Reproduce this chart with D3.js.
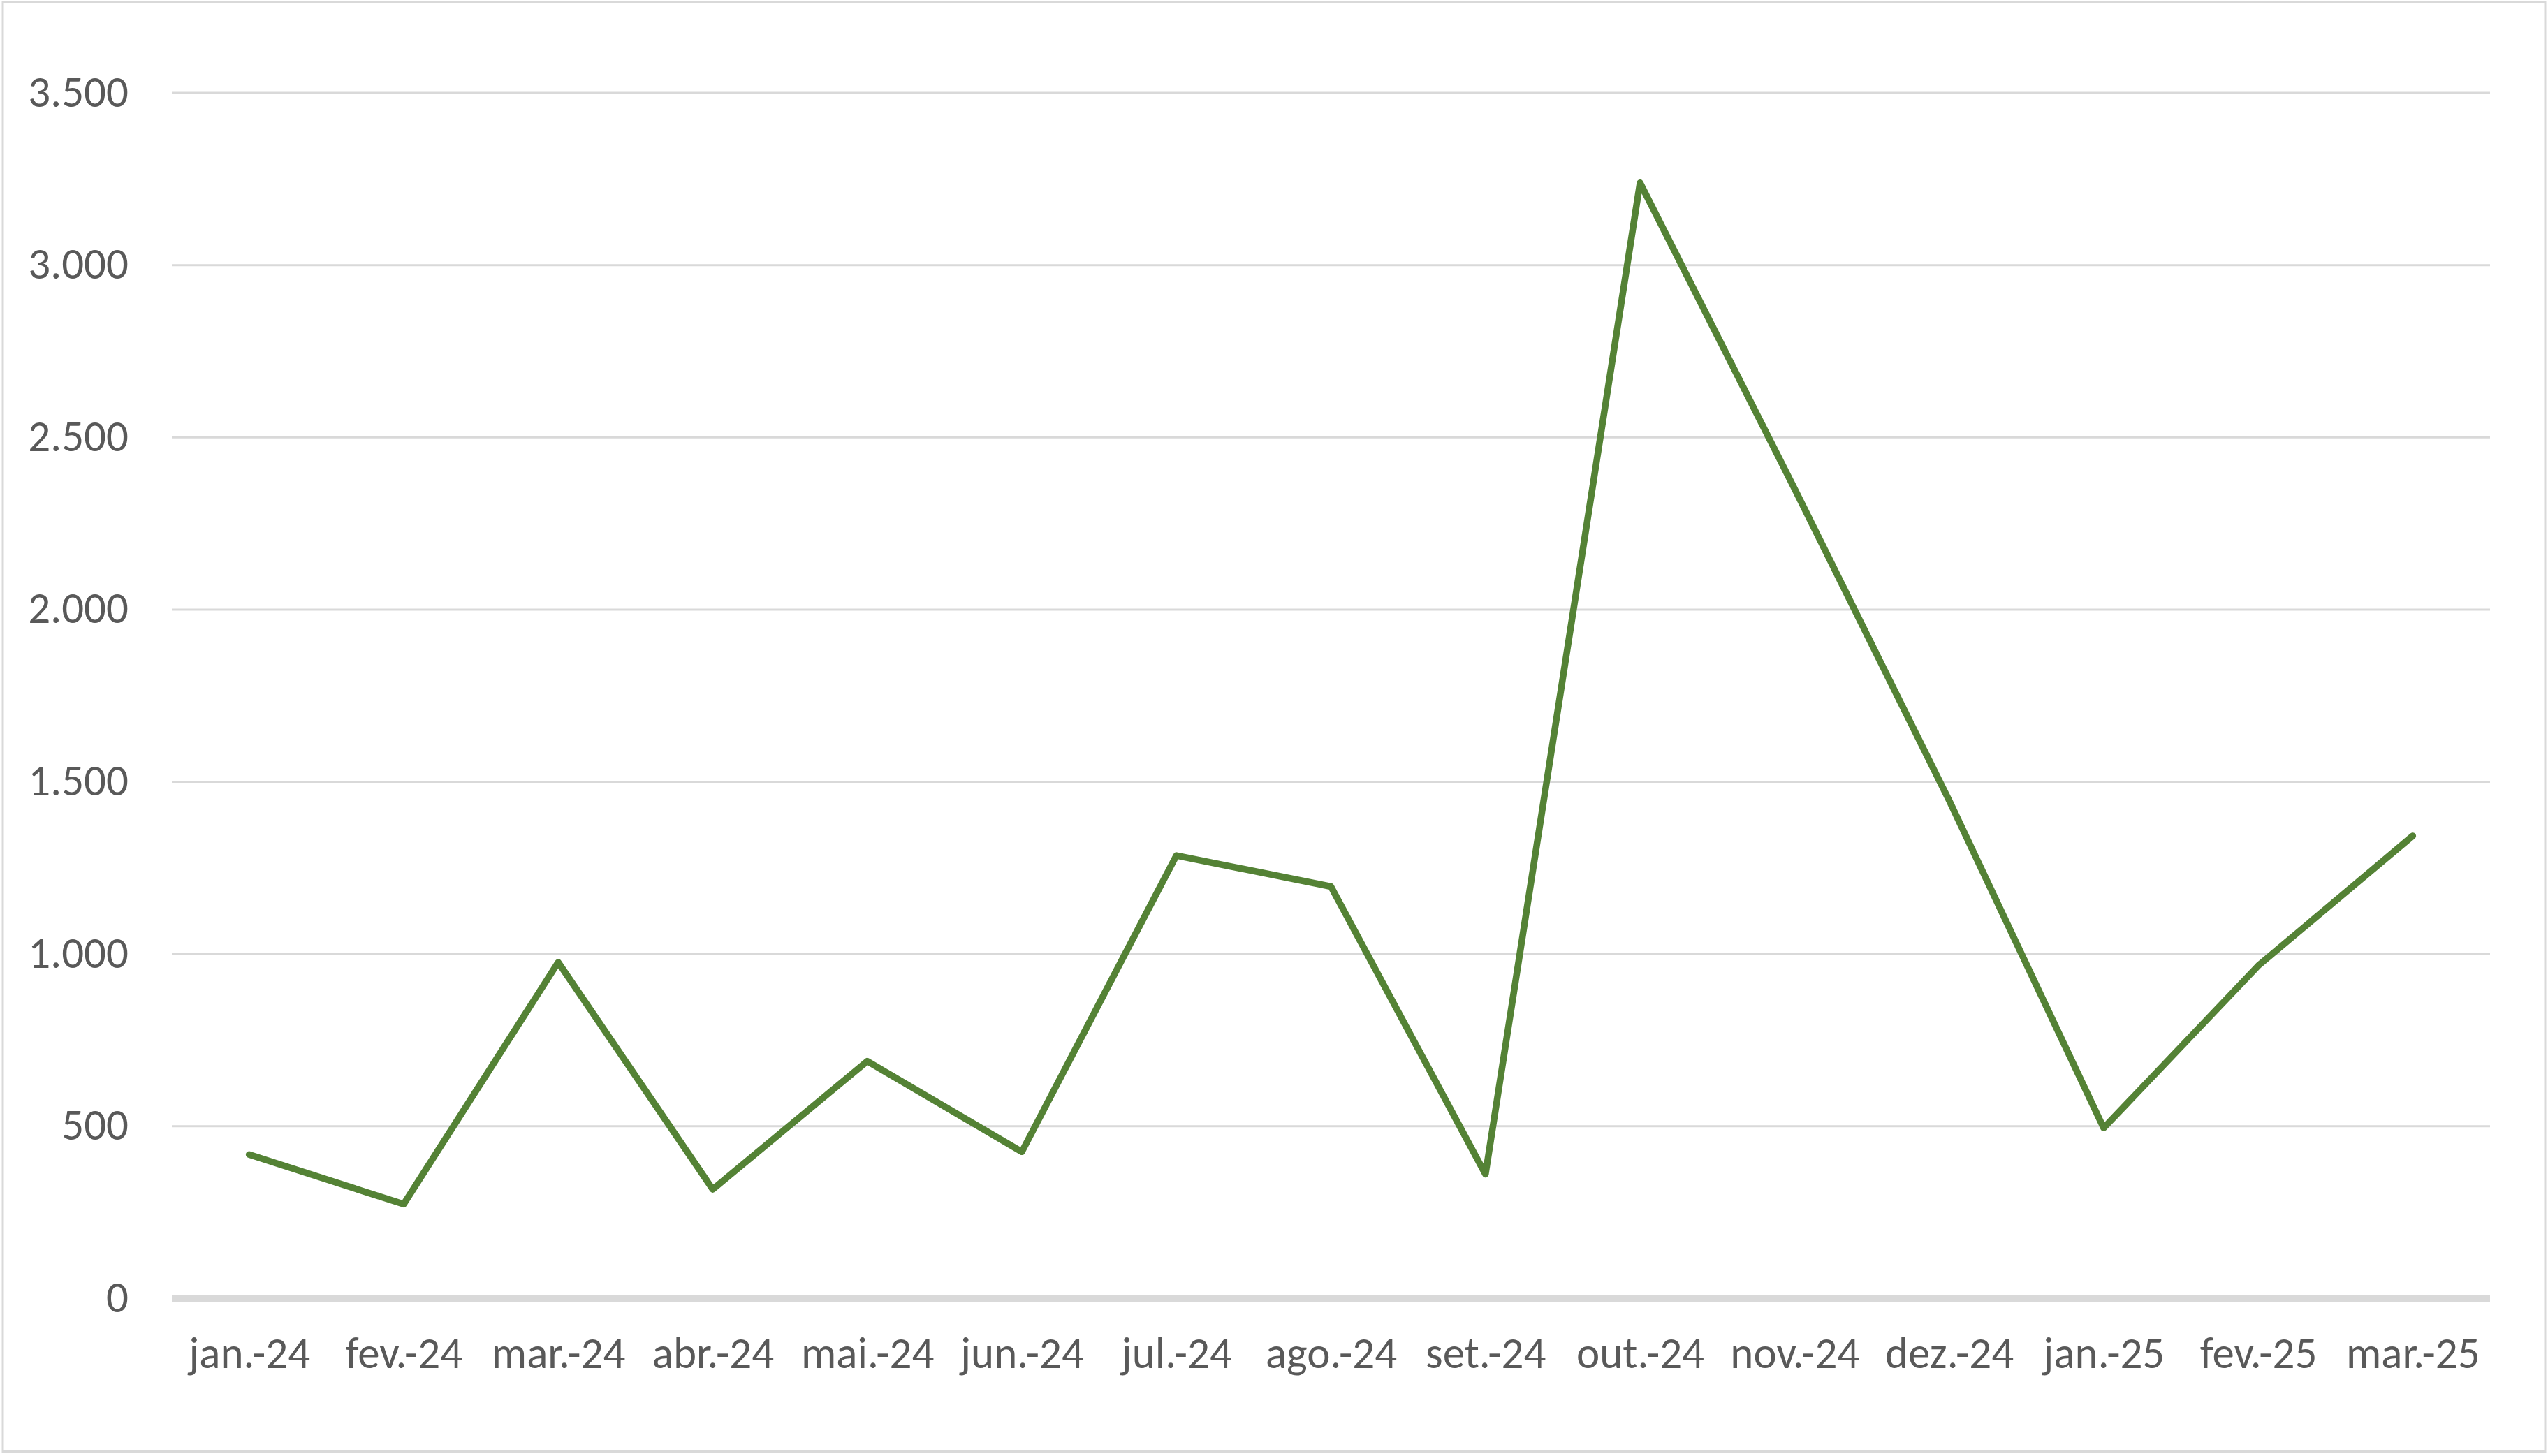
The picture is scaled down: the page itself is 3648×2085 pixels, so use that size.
<!DOCTYPE html>
<html>
<head>
<meta charset="utf-8">
<script src="https://cdn.jsdelivr.net/npm/d3@7"></script>
<style>
  html, body { margin: 0; padding: 0; background: #ffffff; }
  svg { display: block; }
  text { font-family: Carlito, Lato, "Liberation Sans", sans-serif; fill: #595959; }
</style>
</head>
<body>
<svg id="chart" width="3648" height="2085"></svg>
<script>
// ---- data ----
const categories = ["jan.-24", "fev.-24", "mar.-24", "abr.-24", "mai.-24", "jun.-24", "jul.-24",
  "ago.-24", "set.-24", "out.-24", "nov.-24", "dez.-24", "jan.-25", "fev.-25", "mar.-25"];
const values = [417, 273, 975, 316, 688, 425, 1285, 1195, 360, 3238, 2350, 1445, 494, 965, 1342];
const yTicks = [0, 500, 1000, 1500, 2000, 2500, 3000, 3500];
const yTickLabels = ["0", "500", "1.000", "1.500", "2.000", "2.500", "3.000", "3.500"];

// ---- layout ----
const W = 3648, H = 2085;
const plot = { left: 246, right: 3565, top: 132.5, bottom: 1859 };

const svg = d3.select("#chart");

// outer border
svg.append("rect")
  .attr("x", 4).attr("y", 3.5)
  .attr("width", W - 8).attr("height", H - 10)
  .attr("fill", "#ffffff")
  .attr("stroke", "#d9d9d9").attr("stroke-width", 3);

const x = d3.scalePoint().domain(categories).range([plot.left, plot.right]).padding(0.5);
const y = d3.scaleLinear().domain([0, 3500]).range([plot.bottom, plot.top]);

// gridlines (via axis)
const gridAxis = d3.axisLeft(y).tickValues(yTicks.filter(d => d > 0))
  .tickSize(-(plot.right - plot.left)).tickFormat("");
const gridG = svg.append("g").attr("transform", `translate(${plot.left},0)`).call(gridAxis);
gridG.select(".domain").remove();
gridG.selectAll(".tick line").attr("stroke", "#d9d9d9").attr("stroke-width", 3);

// y tick labels
const yAxis = d3.axisLeft(y).tickValues(yTicks).tickSize(0).tickPadding(0)
  .tickFormat((d, i) => yTickLabels[i]);
const yG = svg.append("g").attr("transform", `translate(184,-2)`).call(yAxis);
yG.select(".domain").remove();
yG.selectAll(".tick text")
  .attr("font-size", 63).attr("fill", "#595959")
  .attr("dy", null).attr("dominant-baseline", "central")
  .style("font-family", "Carlito, Lato, sans-serif");

// x axis (thick baseline) + labels
const xAxis = d3.axisBottom(x).tickSize(0).tickPadding(0);
const xG = svg.append("g").attr("transform", `translate(0,${y(0)})`).call(xAxis);
xG.select(".domain").remove();
xG.selectAll(".tick text")
  .attr("font-size", 63).attr("fill", "#595959")
  .attr("y", 100).attr("dy", null)
  .style("font-family", "Carlito, Lato, sans-serif");

svg.append("line")
  .attr("x1", plot.left).attr("x2", plot.right)
  .attr("y1", y(0)).attr("y2", y(0))
  .attr("stroke", "#d9d9d9").attr("stroke-width", 10);

// series line
const line = d3.line()
  .x((d, i) => x(categories[i]))
  .y(d => y(d));

svg.append("path")
  .datum(values)
  .attr("d", line)
  .attr("fill", "none")
  .attr("stroke", "#548235")
  .attr("stroke-width", 9.5)
  .attr("stroke-linejoin", "round")
  .attr("stroke-linecap", "round");
</script>
</body>
</html>
